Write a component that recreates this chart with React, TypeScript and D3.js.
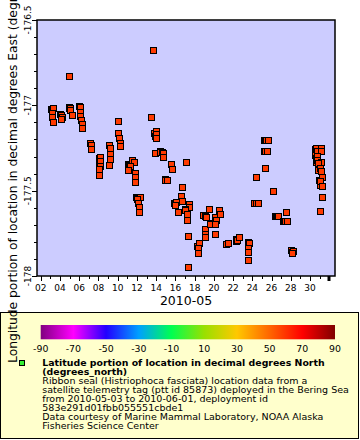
import React from 'react';
import * as d3 from 'd3';

const W = 360;
const H = 440;
const PLOT = { left: 37, top: 20, right: 335, bottom: 276 };

// [day of May 2010 (fractional), longitude degrees East]
const locations: [number, number][] = [
  [3.07, -177.021], [3.17, -177.027], [3.33, -177.017], [3.14, -177.047], [3.14, -177.07], [3.25, -177.096],
  [3.98, -177.051], [4.06, -177.057], [4.21, -177.067], [4.14, -177.08],
  [4.89, -177.01], [4.99, -177.016], [5.05, -177.016], [5.08, -177.027], [5.25, -177.057],
  [5.98, -177.004], [6.05, -177.008], [6.12, -177.037], [6.12, -177.061], [6.19, -177.086], [6.29, -177.111], [6.29, -177.131],
  [4.97, -176.826],
  [7.09, -177.219], [7.23, -177.232], [7.23, -177.256],
  [8.06, -177.309], [8.11, -177.332], [8.01, -177.355], [8.2, -177.301], [8.2, -177.324], [8.2, -177.354], [8.03, -177.373], [8.09, -177.408],
  [9.07, -177.232], [9.24, -177.252], [9.17, -177.287], [9.17, -177.314], [9.07, -177.35],
  [10.04, -177.09], [10.04, -177.16], [10.11, -177.193], [10.21, -177.222], [10.24, -177.238],
  [11.07, -177.344], [11.18, -177.35], [11.49, -177.32], [11.67, -177.334], [11.25, -177.355], [11.04, -177.379],
  [11.77, -177.398], [11.83, -177.418], [11.83, -177.447],
  [11.91, -177.537], [12.01, -177.543], [12.32, -177.535], [11.98, -177.549], [12.15, -177.574], [12.19, -177.597], [12.19, -177.625],
  [13.64, -176.676],
  [13.47, -177.067], [13.78, -177.162], [13.83, -177.18], [13.95, -177.15], [13.95, -177.17], [13.95, -177.193],
  [13.88, -177.278], [14.35, -177.265], [14.45, -177.271], [14.56, -177.276], [14.68, -177.281], [14.68, -177.301],
  [15.54, -177.346], [15.65, -177.375], [14.87, -177.432], [14.97, -177.435], [15.1, -177.438],
  [16.69, -177.477], [17.1, -177.33],
  [16.55, -177.53], [16.66, -177.559], [15.82, -177.572], [15.93, -177.578], [16.03, -177.568], [15.96, -177.584], [16.24, -177.623],
  [17.42, -177.58], [17.42, -177.597], [16.95, -177.607], [17.05, -177.613], [17.18, -177.638], [17.18, -177.672],
  [17.31, -177.766], [17.31, -177.945],
  [18.25, -177.824], [18.3, -177.848], [18.46, -177.805], [18.38, -177.838], [18.32, -177.863],
  [19.08, -177.726], [19.08, -177.754], [19.08, -177.773],
  [19.46, -177.607], [18.92, -177.643], [19.03, -177.648], [19.18, -177.653],
  [19.96, -177.689], [20.07, -177.695], [19.6, -177.697], [20.12, -177.653], [20.22, -177.672], [20.12, -177.697],
  [20.5, -177.613], [20.64, -177.638], [20.12, -177.754],
  [21.21, -177.81], [21.31, -177.81], [21.42, -177.807], [21.5, -177.805],
  [22.25, -177.783], [22.3, -177.795], [22.37, -177.789], [22.61, -177.77],
  [23.5, -177.801], [23.6, -177.804], [23.68, -177.805], [23.58, -177.838], [23.58, -177.858], [23.52, -177.906],
  [24.35, -177.418], [25.32, -177.365],
  [25.21, -177.268], [25.32, -177.268], [25.49, -177.268],
  [25.21, -177.203], [25.32, -177.203], [25.42, -177.203], [25.6, -177.203],
  [26.12, -177.5],
  [24.22, -177.571], [24.33, -177.571], [24.43, -177.571], [24.56, -177.571],
  [26.36, -177.647], [26.46, -177.647], [26.56, -177.647], [26.7, -177.647],
  [27.47, -177.623],
  [27.19, -177.678], [27.29, -177.678], [27.4, -177.678], [27.57, -177.678],
  [28.02, -177.848], [28.07, -177.859], [28.2, -177.852], [28.09, -177.867],
  [30.48, -177.256], [30.51, -177.291], [30.61, -177.309], [30.66, -177.332], [30.87, -177.379], [30.92, -177.438], [31.03, -177.467],
  [30.59, -177.252], [31.11, -177.252], [30.69, -177.268], [31.11, -177.268], [30.69, -177.297], [30.75, -177.32],
  [31.14, -177.33], [30.79, -177.34], [31.03, -177.365], [31.11, -177.385], [31.21, -177.418], [31.03, -177.443],
  [31.21, -177.471], [31.21, -177.535], [31.0, -177.617],
];

const xDomainDays = [1.615, 32.59];
const xLabelDays = [2, 4, 6, 8, 10, 12, 14, 16, 18, 20, 22, 24, 26, 28, 30];
const xTitle = '2010-05';
const yDomain = [-178, -176.5];
const yLabelTicks = [-178, -177.5, -177, -176.5];
const yTitle = 'Longitude portion of location in decimal degrees East (degrees_east)';
const colorbarTicks = [-90, -70, -50, -30, -10, 10, 30, 50, 70, 90];
const paletteStops = ['#800080', '#ff00ff', '#2200ff', '#00a0ff', '#00ff50', '#99e000', '#ffc800', '#ff6600', '#ff0000', '#800000'];
const legendTitle = ['Latitude portion of location in decimal degrees North', '(degrees_north)'];
const legendBody = [
  'Ribbon seal (Histriophoca fasciata) location data from a',
  'satellite telemetry tag (ptt id 85873) deployed in the Bering Sea',
  'from 2010-05-03 to 2010-06-01, deployment id',
  '583e291d01fbb055551cbde1',
  'Data courtesy of Marine Mammal Laboratory, NOAA Alaska',
  'Fisheries Science Center',
];

const MAY1 = Date.UTC(2010, 4, 1);
const toDate = (d: number) => new Date(MAY1 + (d - 1) * 864e5);

const FONT = 'DejaVu Sans';
const MARKER = '#ff3a00';

export default function App() {
  const x = d3.scaleUtc().domain([toDate(xDomainDays[0]), toDate(xDomainDays[1])]).range([PLOT.left, PLOT.right]);
  const y = d3.scaleLinear().domain(yDomain).range([PLOT.bottom, PLOT.top]);
  const cb = d3.scaleLinear().domain([-90, 90]).range([40.7, 335]);

  const dayTicks = d3.utcDay.range(toDate(2), toDate(32.5));
  const fmtDay = d3.utcFormat('%d');
  const yMinor = d3.range(0, 16).map((i) => yDomain[0] + i * 0.1);
  const labelSet = new Set(xLabelDays);

  return (
    <svg width={W} height={H} style={{ position: 'absolute', left: 0, top: 0 }} fontFamily={FONT}>
      <defs>
        <linearGradient id="pal" x1="0" x2="1" y1="0" y2="0">
          {paletteStops.map((c, i) => (
            <stop key={i} offset={i / (paletteStops.length - 1)} stopColor={c} />
          ))}
        </linearGradient>
      </defs>
      <rect x={0} y={0} width={W} height={H} fill="#ffffff" />
      <rect x={PLOT.left} y={PLOT.top} width={PLOT.right - PLOT.left} height={PLOT.bottom - PLOT.top} fill="#ccccff" />
      {locations.map(([d, lon], i) => {
        const cx = Math.round(x(toDate(d)));
        const cy = Math.round(y(lon));
        return <rect key={i} x={cx - 2.5} y={cy - 2.5} width={6} height={6} fill={MARKER} stroke="#000" strokeWidth={1} />;
      })}
      <rect x={PLOT.left} y={PLOT.top} width={PLOT.right - PLOT.left} height={PLOT.bottom - PLOT.top} fill="none" stroke="#000" strokeWidth={1.5} />
      {dayTicks.map((t, i) => {
        const day = t.getUTCDate();
        const month = t.getUTCMonth();
        const px = Math.round(x(t)) + 0.5;
        const monthStart = day === 1 && month === 5;
        const major = labelSet.has(day) && month === 4;
        if (monthStart) {
          return <rect key={i} x={px - 2} y={PLOT.bottom} width={3} height={5} fill="#000" />;
        }
        return (
          <g key={i}>
            <line x1={px} x2={px} y1={PLOT.bottom} y2={PLOT.bottom + (major ? 5 : 3)} stroke="#000" strokeWidth={1} />
            {major && (
              <text x={x(t)} y={290.5} fontSize={9} textAnchor="middle" fill="#000">
                {fmtDay(t)}
              </text>
            )}
          </g>
        );
      })}
      <text x={(PLOT.left + PLOT.right) / 2} y={305} fontSize={12.5} textAnchor="middle" fill="#000">
        {xTitle}
      </text>
      {yMinor.map((v, i) => {
        const py = Math.round(y(v)) + 0.5;
        const major = yLabelTicks.some((t) => Math.abs(t - v) < 1e-6);
        return <line key={i} x1={PLOT.left - (major ? 5 : 3)} x2={PLOT.left} y1={py} y2={py} stroke="#000" strokeWidth={1} />;
      })}
      {yLabelTicks.map((v, i) => (
        <text key={i} transform={`translate(30.5,${y(v)}) rotate(-90)`} fontSize={9} textAnchor="middle" fill="#000">
          {String(v)}
        </text>
      ))}
      <rect x={0.5} y={312.5} width={358} height={126} fill="#ffffcc" stroke="#000" strokeWidth={1} />
      <rect x={cb(-90)} y={325} width={cb(90) - cb(-90)} height={14.3} fill="url(#pal)" />
      {colorbarTicks.map((v, i) => (
        <text key={i} x={cb(v)} y={352.3} fontSize={9.4} textAnchor="middle" fill="#000">
          {String(v)}
        </text>
      ))}
      <rect x={19.5} y={360.5} width={5} height={5} fill="#33ee33" stroke="#000" strokeWidth={1} />
      {legendTitle.map((s, i) => (
        <text key={i} x={42.3} y={365.5 + i * 9} fontSize={9.4} fontWeight="bold" fill="#000">
          {s}
        </text>
      ))}
      {legendBody.map((s, i) => (
        <text key={i} x={42.3} y={383.5 + i * 9} fontSize={9.5} fill="#000">
          {s}
        </text>
      ))}
      <text transform="translate(16.5,363) rotate(-90)" fontSize={12.3} textAnchor="start" fill="#000">
        {yTitle}
      </text>
    </svg>
  );
}
